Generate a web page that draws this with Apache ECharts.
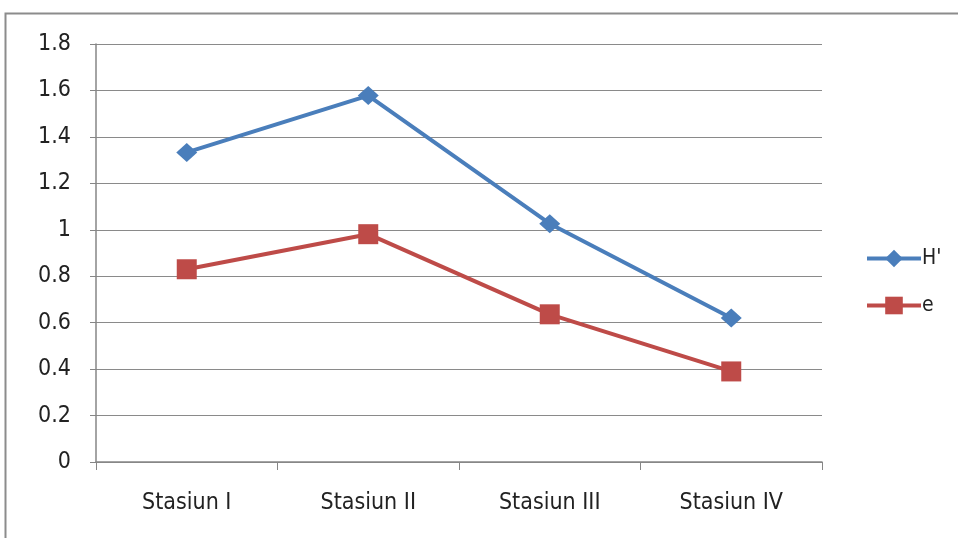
<!DOCTYPE html>
<html><head><meta charset="utf-8">
<script src="https://cdn.jsdelivr.net/npm/echarts@6/dist/echarts.min.js"></script>
<style>html,body{margin:0;padding:0;background:#fff}#c{width:958px;height:538px}</style>
</head><body><div id="c"></div>
<script>
const categories = ['Stasiun I', 'Stasiun II', 'Stasiun III', 'Stasiun IV'];
const hValues = [1.333, 1.578, 1.026, 0.62];
const eValues = [0.83, 0.981, 0.636, 0.39];
const seriesNames = ["H'", 'e'];

const font = '"DejaVu Sans Condensed", "Liberation Sans Narrow", "Liberation Sans", sans-serif';
const chart = echarts.init(document.getElementById('c'));
chart.setOption({
  animation: false,
  backgroundColor: '#fff',
  graphic: [{
    type: 'rect', shape: {x: 5.5, y: 13.5, width: 1000, height: 600},
    style: {fill: 'none', stroke: '#8c8c8c', lineWidth: 2}
  }],
  grid: {left: 96, right: 136, top: 44, bottom: 76},
  legend: {
    orient: 'vertical', left: 860, top: 243, itemWidth: 54, itemHeight: 22, itemGap: 26,
    textStyle: {fontFamily: font, fontSize: 21, color: '#222', padding: [0, 0, 0, -4]},
    lineStyle: {width: 4},
    data: seriesNames
  },
  xAxis: {
    type: 'category', data: categories, boundaryGap: true,
    axisLine: {lineStyle: {color: '#868686', width: 1.5}},
    axisTick: {show: true, length: 8, lineStyle: {color: '#868686'}},
    axisLabel: {fontFamily: font, fontSize: 23, color: '#222', margin: 30}
  },
  yAxis: {
    type: 'value', min: 0, max: 1.8, interval: 0.2,
    axisLine: {show: true, lineStyle: {color: '#868686', width: 1.5}},
    axisTick: {show: true, length: 6, lineStyle: {color: '#868686'}},
    axisLabel: {fontFamily: font, fontSize: 23, color: '#222', margin: 25,
      formatter: v => String(Math.round(v * 10) / 10)},
    splitLine: {lineStyle: {color: '#8a8a8a', width: 1.2}}
  },
  series: [{
    name: seriesNames[0], type: 'line', data: hValues,
    symbol: 'diamond', symbolSize: [21, 19],
    lineStyle: {color: '#4a7ebb', width: 4},
    itemStyle: {color: '#4a7ebb'}
  }, {
    name: seriesNames[1], type: 'line', data: eValues,
    symbol: 'rect', symbolSize: 20,
    lineStyle: {color: '#be4b48', width: 4},
    itemStyle: {color: '#be4b48'}
  }]
});
</script></body></html>
